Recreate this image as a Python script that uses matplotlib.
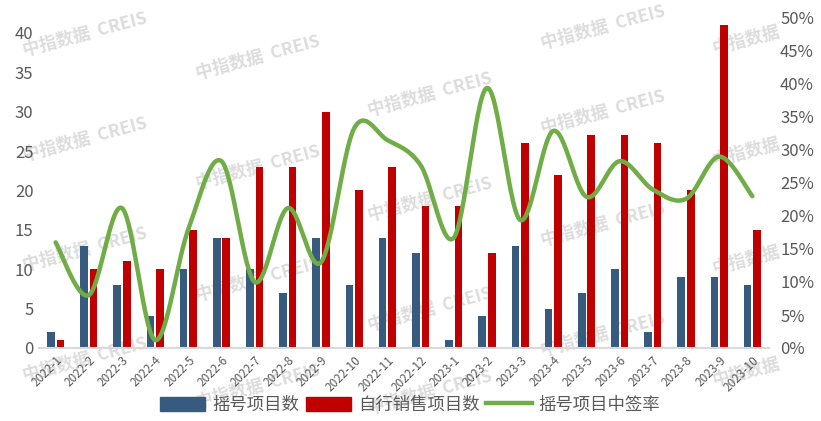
import numpy as np
import matplotlib
matplotlib.use("Agg")
import matplotlib.pyplot as plt
from matplotlib.lines import Line2D
from matplotlib.patches import Patch

plt.rcParams['font.family'] = ['Noto Sans CJK SC', 'DejaVu Sans']

months = ['2022-1', '2022-2', '2022-3', '2022-4', '2022-5', '2022-6', '2022-7', '2022-8',
          '2022-9', '2022-10', '2022-11', '2022-12', '2023-1', '2023-2', '2023-3', '2023-4',
          '2023-5', '2023-6', '2023-7', '2023-8', '2023-9', '2023-10']
lottery = [2, 13, 8, 4, 10, 14, 10, 7, 14, 8, 14, 12, 1, 4, 13, 5, 7, 10, 2, 9, 9, 8]
self_sale = [1, 10, 11, 10, 15, 14, 23, 23, 30, 20, 23, 18, 18, 12, 26, 22, 27, 27, 26, 20, 41, 15]
win_rate = [16.0, 8.0, 21.2, 1.2, 18.0, 28.3, 10.0, 21.2, 13.0, 33.3, 31.5, 27.7,
            16.7, 39.4, 19.4, 32.9, 22.9, 28.3, 24.0, 22.6, 29.0, 23.0]

BLUE = '#375A7F'
RED = '#C00000'
GREEN = '#70AD47'
GREY = '#595959'


def smooth(x, y, n=30):
    # catmull-rom curve, like the smoothed line option in excel
    x = np.asarray(x, float)
    y = np.asarray(y, float)
    px = np.concatenate([[x[0]], x, [x[-1]]])
    py = np.concatenate([[y[0]], y, [y[-1]]])
    xs, ys = [], []
    t = np.linspace(0, 1, n)
    for i in range(1, len(px) - 2):
        p0, p1, p2, p3 = py[i-1], py[i], py[i+1], py[i+2]
        q0, q1, q2, q3 = px[i-1], px[i], px[i+1], px[i+2]
        b1 = p1 + (p2 - p0) / 6
        b2 = p2 - (p3 - p1) / 6
        c1 = q1 + (q2 - q0) / 6
        c2 = q2 - (q3 - q1) / 6
        xs.append((1-t)**3*q1 + 3*(1-t)**2*t*c1 + 3*(1-t)*t**2*c2 + t**3*q2)
        ys.append((1-t)**3*p1 + 3*(1-t)**2*t*b1 + 3*(1-t)*t**2*b2 + t**3*p2)
    return np.concatenate(xs), np.concatenate(ys)


fig = plt.figure(figsize=(8.21, 4.21), dpi=100)
ax = fig.add_axes([39/821, 1 - 348/421, (769-39)/821, (348-18)/421])
ax.patch.set_alpha(0)

# watermark grid
cols = [(85, [35, 140, 250, 360]), (258, [58, 168, 280, 387]), (430, [95, 200, 310, 393]),
        (603, [28, 113, 225, 335])]
for cx, ylist in cols:
    for cy in ylist:
        fig.text(cx/821, 1 - cy/421, '中指数据  CREIS', color='#d9d9d9', fontsize=12.5,
                 fontweight='bold', rotation=15, ha='center', va='center', zorder=-5, alpha=0.9)
for cy in [40, 152, 260, 372]:
    fig.text(746/821, 1 - cy/421, '中指数据', color='#d9d9d9', fontsize=12.5,
             fontweight='bold', rotation=15, ha='center', va='center', zorder=-5, alpha=0.9)

x = np.arange(len(months))
w = 0.23
ax.bar(x - 0.145, lottery, w, color=BLUE, zorder=2)
ax.bar(x + 0.145, self_sale, w, color=RED, zorder=2)
ax.set_xlim(-0.5, 21.5)
ax.set_ylim(0, 41.9)
ax.set_yticks(range(0, 41, 5))
ax.set_xticks(x)
ax.set_xticklabels(months, rotation=45, ha='right', rotation_mode='anchor', fontsize=8.5, color=GREY)
ax.tick_params(axis='both', length=0, colors=GREY)
ax.tick_params(axis='y', labelsize=12, pad=4)
ax.tick_params(axis='x', pad=4)
for s in ['top', 'right', 'left']:
    ax.spines[s].set_visible(False)
ax.spines['bottom'].set_color('#d9d9d9')
ax.spines['bottom'].set_linewidth(1.5)

ax2 = ax.twinx()
sx, sy = smooth(x, win_rate)
ax2.plot(sx, sy, color=GREEN, lw=3.2, solid_capstyle='round', zorder=3)
ax2.set_ylim(0, 50)
ax2.set_yticks(range(0, 51, 5))
ax2.set_yticklabels([f'{v}%' for v in range(0, 51, 5)])
ax2.tick_params(axis='y', length=0, colors=GREY, labelsize=12, pad=8)
for s in ['top', 'right', 'left', 'bottom']:
    ax2.spines[s].set_visible(False)

handles = [Patch(color=BLUE), Patch(color=RED), Line2D([0], [0], color=GREEN, lw=3.2)]
labels = ['摇号项目数', '自行销售项目数', '摇号项目中签率']
fig.legend(handles, labels, loc='center', bbox_to_anchor=(410/821, 1 - 405/421), ncol=3,
           frameon=False, fontsize=12.5, handlelength=2.6, handleheight=0.9,
           handletextpad=0.4, columnspacing=0.4, labelcolor=GREY)

fig.savefig('out.png', dpi=100)
